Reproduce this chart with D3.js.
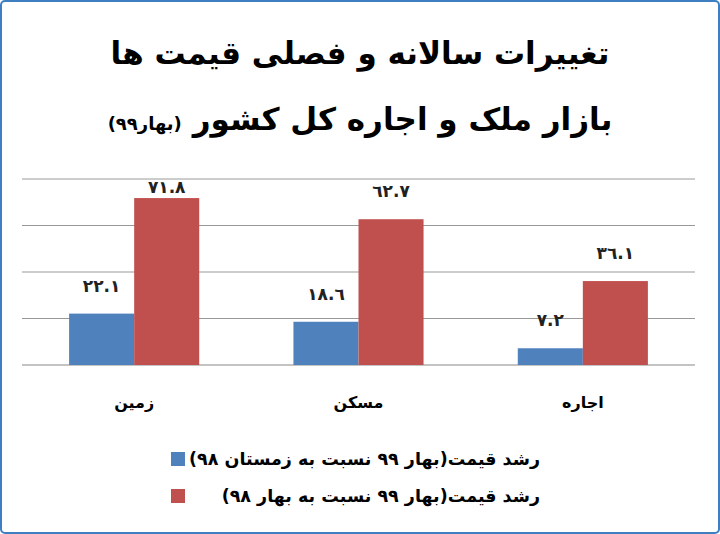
<!DOCTYPE html>
<html><head><meta charset="utf-8">
<script src="https://cdn.jsdelivr.net/npm/d3@7"></script>
<style>body{margin:0;background:#fff}svg{display:block;font-family:"DejaVu Sans",sans-serif}</style>
</head><body><svg id="c" width="720" height="534"></svg>
<script>
const categories = ["زمین","مسکن","اجاره"];
const seriesNames = ["رشد قیمت(بهار ۹۹ نسبت به زمستان ۹۸)","رشد قیمت(بهار ۹۹ نسبت به بهار ۹۸)"];
const quarterly = [22.1, 18.6, 7.2];
const annual = [71.8, 62.7, 36.1];
const valueLabels = [["٢٢.١","١٨.٦","٧.٢"],["٧١.٨","٦٢.٧","٣٦.١"]];
const ticks = [0,20,40,60,80];
const colors = ["#4f81bd","#c0504d"];

const svg = d3.select("#c");
svg.append("rect").attr("x",1).attr("y",1).attr("width",718).attr("height",532).attr("rx",4)
  .attr("fill","#fff").attr("stroke","#3d7fc1").attr("stroke-width",2);
svg.append("text").attr("x",360).attr("y",64).attr("text-anchor","middle").attr("font-size",31)
  .attr("font-weight","bold").text("تغییرات سالانه و فصلی قیمت ها");
const t2 = svg.append("text").attr("x",360).attr("y",130).attr("text-anchor","middle")
  .attr("font-weight","bold").attr("direction","rtl");
t2.append("tspan").attr("font-size",31).text("بازار ملک و اجاره کل کشور ");
t2.append("tspan").attr("font-size",18).text("(بهار۹۹)");

const y = d3.scaleLinear().domain([0,80]).range([365,179]);
const x0 = d3.scaleBand().domain(categories).range([22,695]).paddingInner(0.42).paddingOuter(0.21);
const x1 = d3.scaleBand().domain([0,1]).range([0,x0.bandwidth()]);

svg.append("g").selectAll("line").data(ticks).join("line")
  .attr("x1",22).attr("x2",695).attr("y1",d=>y(d)).attr("y2",d=>y(d))
  .attr("stroke",d=>d===0?"#888":"#999").attr("stroke-width",1);

const series=[quarterly,annual];
series.forEach((vals,s)=>{
  const g=svg.append("g");
  g.selectAll("rect").data(vals).join("rect")
    .attr("x",(d,i)=>x0(categories[i])+x1(s)).attr("width",x1.bandwidth())
    .attr("y",d=>y(d)).attr("height",d=>y(0)-y(d)).attr("fill",colors[s]);
  g.selectAll("text").data(vals).join("text")
    .attr("x",(d,i)=>x0(categories[i])+x1(s)+x1.bandwidth()/2)
    .attr("y",d=>Math.max(y(d)-22,193)).attr("text-anchor","middle").attr("font-size",17)
    .attr("font-weight","bold").attr("fill","#222").text((d,i)=>valueLabels[s][i]);
});
svg.append("g").selectAll("text").data(categories).join("text")
  .attr("x",d=>x0(d)+x0.bandwidth()/2).attr("y",408).attr("text-anchor","middle")
  .attr("font-size",16).attr("font-weight","bold").text(d=>d);

const lg = svg.append("g");
seriesNames.forEach((n,i)=>{
  const yy=460+i*37;
  lg.append("rect").attr("x",171).attr("y",yy-8).attr("width",14).attr("height",14).attr("fill",colors[i]);
  lg.append("text").attr("x",540).attr("y",yy+5).attr("direction","rtl").attr("text-anchor","start")
    .attr("font-size",17.5).attr("font-weight","bold").text(n);
});
</script></body></html>
